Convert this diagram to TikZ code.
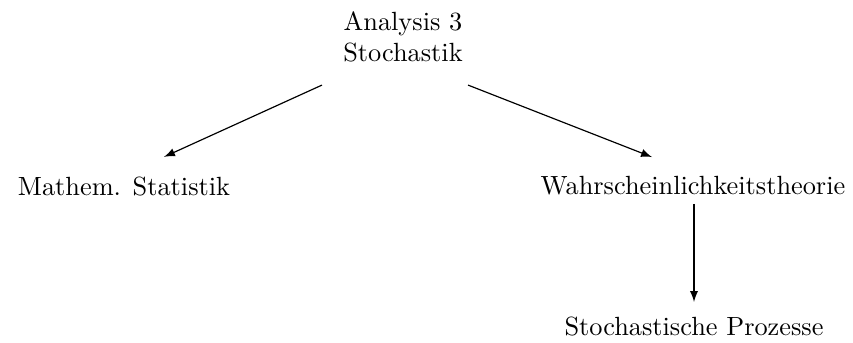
\documentclass[tikz,border=0pt]{standalone}
\usetikzlibrary{arrows}

\tikzset{
  topic/.style={inner sep=0pt, align=center},
  pfeil/.style={-latex, line width=0.45pt},
}

\begin{document}
\begin{tikzpicture}[x=0.38pt,y=-0.38pt]
\useasboundingbox (0,0) rectangle (853,342);

\node[topic,anchor=north] (ana) at (403,11) {Analysis 3\\Stochastik};
\node[topic] (stat) at (124,186) {Mathem. Statistik};
\node[topic] (wt) at (693,186) {Wahrscheinlichkeitstheorie};
\node[topic] (proz) at (694,326) {Stochastische Prozesse};

\draw[pfeil] ([shift={(-81,22)}]ana.south) -- ([shift={(40,-19)}]stat.north);
\draw[pfeil] ([shift={(65,22)}]ana.south) -- ([shift={(-41,-19)}]wt.north);
\draw[pfeil] ([shift={(1,8)}]wt.south) -- ([shift={(0,-14)}]proz.north);

\end{tikzpicture}
\end{document}
